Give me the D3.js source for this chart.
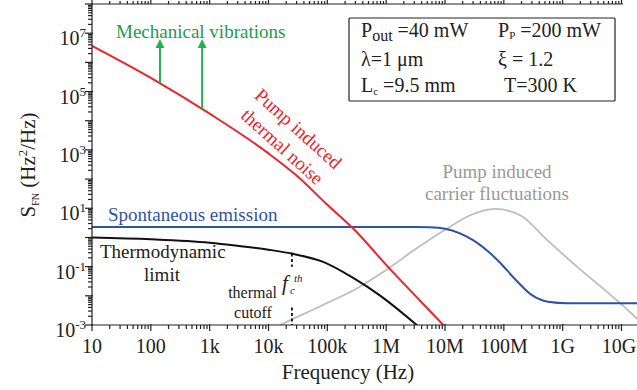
<!DOCTYPE html>
<html><head><meta charset="utf-8">
<script src="https://cdn.jsdelivr.net/npm/d3@7"></script>
<style>body{margin:0;background:#fff}svg{display:block}</style>
</head><body>
<svg id="c" width="637" height="390" font-family="'Liberation Serif', 'Times New Roman', Times, 'DejaVu Serif', serif"></svg>
<script>
// ---- data ----
const xTickValues = [10, 100, 1e3, 1e4, 1e5, 1e6, 1e7, 1e8, 1e9, 1e10];
const xTickLabels = ["10", "100", "1k", "10k", "100k", "1M", "10M", "100M", "1G", "10G"];
const yTickExps = [7, 5, 3, 1, -1, -3];

const redFreq = [10, 100, 1e3, 1e4, 3e4, 1e5, 3e5, 1e6, 3e6, 1e7, 2e7];
const redVal  = [3.7e6, 2.95e5, 1.74e4, 759, 132, 13.2, 1.7, 0.115, 0.011, 8.7e-4, 2e-4];

const blueFreq = [10, 1e6, 3e6, 5.6e6, 1e7, 3e7, 8e7, 1.6e8, 3e8, 5.6e8, 1.2e9, 2e10];
const blueVal  = [2.3, 2.3, 2.3, 2.25, 2.0, 0.81, 0.16, 0.035, 0.0105, 0.0063, 0.0056, 0.0056];

const blackFreq = [10, 100, 1e3, 3.16e3, 1e4, 2.5e4, 8.5e4, 2.75e5, 8e5, 3.3e6, 6.3e6];
const blackVal  = [1.0, 0.87, 0.66, 0.51, 0.38, 0.28, 0.145, 0.041, 0.01, 0.001, 3.2e-4];

const grayFreq = [1e4, 1.58e4, 7.6e4, 3.16e5, 1e6, 2.9e6, 1.07e7, 2.7e7, 7.1e7, 1.9e8, 5.4e8, 2e9, 4.4e9, 9.5e9, 2e10];
const grayVal  = [6.3e-4, 1e-3, 4.4e-3, 0.0178, 0.076, 0.355, 2.0, 5.75, 9.5, 5.75, 0.83, 0.079, 0.021, 0.0056, 0.0014];

const mechFreq = [143, 745];
const mechTop = 6.3e6;
const fcFreq = 2.5e4;
const fcDash = [[0.28, 0.1], [0.004, 0.001]];

// ---- setup ----
const svg = d3.select("#c");
const x = d3.scaleLog().domain([10, 1e10]).range([92, 621.5]);
const y = d3.scaleLog().domain([1e-3, 1e8]).range([325, 4]);
const X0 = 92, X1 = 637, Y0 = 325, Y1 = 4;

svg.append("defs").append("clipPath").attr("id", "clip")
  .append("rect").attr("x", X0).attr("y", Y1).attr("width", X1 - X0).attr("height", Y0 - Y1);

function logInterp(fx, fv, f) {
  const lf = Math.log10(f);
  for (let i = 0; i < fx.length - 1; i++) {
    const a = Math.log10(fx[i]), b = Math.log10(fx[i + 1]);
    if (lf >= a && lf <= b) {
      const t = (lf - a) / (b - a);
      return Math.pow(10, Math.log10(fv[i]) * (1 - t) + Math.log10(fv[i + 1]) * t);
    }
  }
  return fv[fv.length - 1];
}

const line = d3.line().x(d => x(d[0])).y(d => y(d[1])).curve(d3.curveMonotoneX);
const plot = svg.append("g").attr("clip-path", "url(#clip)");
function curve(fx, fv, color, w) {
  plot.append("path").datum(fx.map((f, i) => [f, fv[i]]))
    .attr("d", line).attr("fill", "none").attr("stroke", color).attr("stroke-width", w);
}
curve(grayFreq, grayVal, "#bdbdbd", 1.8);
curve(blackFreq, blackVal, "#111", 2);
curve(blueFreq, blueVal, "#2f52a6", 2);
curve(redFreq, redVal, "#ee2229", 2);

// fc dashed line
fcDash.forEach(s => {
  svg.append("line").attr("x1", x(fcFreq)).attr("x2", x(fcFreq))
    .attr("y1", y(s[0])).attr("y2", y(s[1]))
    .attr("stroke", "#111").attr("stroke-width", 1.8).attr("stroke-dasharray", "3,2.5");
});

// mechanical vibration arrows
mechFreq.forEach(f => {
  const xb = x(f), yb = y(logInterp(redFreq, redVal, f)), yt = y(mechTop);
  svg.append("line").attr("x1", xb).attr("x2", xb).attr("y1", yb).attr("y2", yt + 7)
    .attr("stroke", "#25b04d").attr("stroke-width", 2);
  svg.append("path").attr("d", `M${xb},${yt} L${xb - 4.5},${yt + 9} L${xb + 4.5},${yt + 9} Z`)
    .attr("fill", "#25b04d");
});

// ---- axes ----
const ax = svg.append("g").attr("stroke", "#222").attr("stroke-width", 1.2);
ax.append("line").attr("x1", X0).attr("x2", X0).attr("y1", Y1).attr("y2", Y0);
ax.append("line").attr("x1", X0).attr("x2", X1).attr("y1", Y0).attr("y2", Y0);
ax.append("line").attr("x1", X0).attr("x2", 623).attr("y1", Y1).attr("y2", Y1);

// x ticks
const xMinor = [];
for (let d = 1; d <= 10; d++) for (let k = 2; k <= 9; k++) { const v = k * Math.pow(10, d); if (x(v) <= X1) xMinor.push(v); }
xMinor.forEach(v => {
  ax.append("line").attr("x1", x(v)).attr("x2", x(v)).attr("y1", Y0).attr("y2", Y0 + 4);
  if (x(v) <= 623) ax.append("line").attr("x1", x(v)).attr("x2", x(v)).attr("y1", Y1).attr("y2", Y1 - 3);
});
xTickValues.forEach(v => {
  ax.append("line").attr("x1", x(v)).attr("x2", x(v)).attr("y1", Y0 - 1).attr("y2", Y0 + 6);
  ax.append("line").attr("x1", x(v)).attr("x2", x(v)).attr("y1", Y1).attr("y2", Y1 - 4);
});
svg.append("g").selectAll("text").data(xTickValues).join("text")
  .attr("x", d => Math.min(x(d), 619)).attr("y", 353).attr("text-anchor", "middle")
  .attr("font-size", 20).attr("fill", "#222").text((d, i) => xTickLabels[i]);

// y ticks
for (let e = -3; e <= 8; e++) {
  const v = Math.pow(10, e);
  ax.append("line").attr("x1", X0 - 7).attr("x2", X0 + 1).attr("y1", y(v)).attr("y2", y(v));
  if (e < 8) for (let k = 2; k <= 9; k++) {
    const m = k * v;
    ax.append("line").attr("x1", X0 - 4).attr("x2", X0).attr("y1", y(m)).attr("y2", y(m));
  }
}
yTickExps.forEach(e => {
  const t = svg.append("text").attr("x", 86).attr("y", y(Math.pow(10, e)) + 12)
    .attr("text-anchor", "end").attr("font-size", 20).attr("fill", "#222");
  t.append("tspan").text("10");
  t.append("tspan").attr("dy", -8).attr("font-size", 13).text(e < 0 ? "-" + (-e) : String(e));
});

// axis titles
svg.append("text").attr("x", 348).attr("y", 379).attr("text-anchor", "middle")
  .attr("font-size", 21).attr("fill", "#222").text("Frequency (Hz)");
const yt = svg.append("text").attr("transform", "translate(35,165) rotate(-90)")
  .attr("text-anchor", "middle").attr("font-size", 21).attr("fill", "#222");
yt.append("tspan").text("S");
yt.append("tspan").attr("dy", 4).attr("font-size", 10).text("FN");
yt.append("tspan").attr("dy", -4).text(" (Hz");
yt.append("tspan").attr("dy", -8).attr("font-size", 13).text("2");
yt.append("tspan").attr("dy", 8).text("/Hz)");

// ---- annotations ----
svg.append("text").attr("x", 116).attr("y", 38).attr("font-size", 19).attr("fill", "#1e9a4a").text("Mechanical vibrations");
svg.append("text").attr("x", 108).attr("y", 221).attr("font-size", 19).attr("fill", "#2f52a6").text("Spontaneous emission");
svg.append("text").attr("x", 100).attr("y", 258).attr("font-size", 19).attr("fill", "#222").text("Thermodynamic");
svg.append("text").attr("x", 162).attr("y", 281).attr("text-anchor", "middle").attr("font-size", 19).attr("fill", "#222").text("limit");
svg.append("text").attr("x", 277).attr("y", 298).attr("text-anchor", "end").attr("font-size", 16).attr("fill", "#222").text("thermal");
svg.append("text").attr("x", 253).attr("y", 318).attr("text-anchor", "middle").attr("font-size", 16).attr("fill", "#222").text("cutoff");
svg.append("text").attr("x", 282).attr("y", 290).attr("font-size", 21).attr("font-style", "italic").attr("fill", "#222").text("f");
svg.append("text").attr("x", 290).attr("y", 294).attr("font-size", 11).attr("font-style", "italic").attr("fill", "#222").text("c");
svg.append("text").attr("x", 294).attr("y", 282).attr("font-size", 11).attr("font-style", "italic").attr("fill", "#222").text("th");

const rl = svg.append("g").attr("transform", "translate(298,129) rotate(42)");
rl.append("text").attr("x", 0).attr("y", 6).attr("text-anchor", "middle").attr("font-size", 19).attr("fill", "#ee2229").text("Pump induced");
rl.append("text").attr("x", 0).attr("y", 30).attr("text-anchor", "middle").attr("font-size", 19).attr("fill", "#ee2229").text("thermal noise");

svg.append("text").attr("x", 497).attr("y", 178).attr("text-anchor", "middle").attr("font-size", 19).attr("fill", "#999").text("Pump induced");
svg.append("text").attr("x", 497).attr("y", 200).attr("text-anchor", "middle").attr("font-size", 19).attr("fill", "#999").text("carrier fluctuations");

// ---- parameter box ----
svg.append("rect").attr("x", 349).attr("y", 18).attr("width", 266).attr("height", 83)
  .attr("fill", "#fff").attr("stroke", "#222").attr("stroke-width", 1.2).attr("rx", 1);
const bt = (xx, yy) => svg.append("text").attr("x", xx).attr("y", yy).attr("font-size", 20).attr("fill", "#222");
let t1 = bt(361, 37); t1.append("tspan").text("P"); t1.append("tspan").attr("font-size", 16).attr("dy", 4).text("out"); t1.append("tspan").attr("dy", -4).text(" =40 mW");
let t2 = bt(498, 37); t2.append("tspan").text("P"); t2.append("tspan").attr("font-size", 11).attr("dy", 2).text("P"); t2.append("tspan").attr("dy", -2).text(" =200 mW");
bt(361, 66).text("λ=1 μm");
bt(498, 66).text("ξ = 1.2");
let t5 = bt(361, 91.5); t5.append("tspan").text("L"); t5.append("tspan").attr("font-size", 11).attr("dy", 3).text("c"); t5.append("tspan").attr("dy", -3).text(" =9.5 mm");
bt(504, 91.5).text("T=300 K");
</script>
</body></html>
